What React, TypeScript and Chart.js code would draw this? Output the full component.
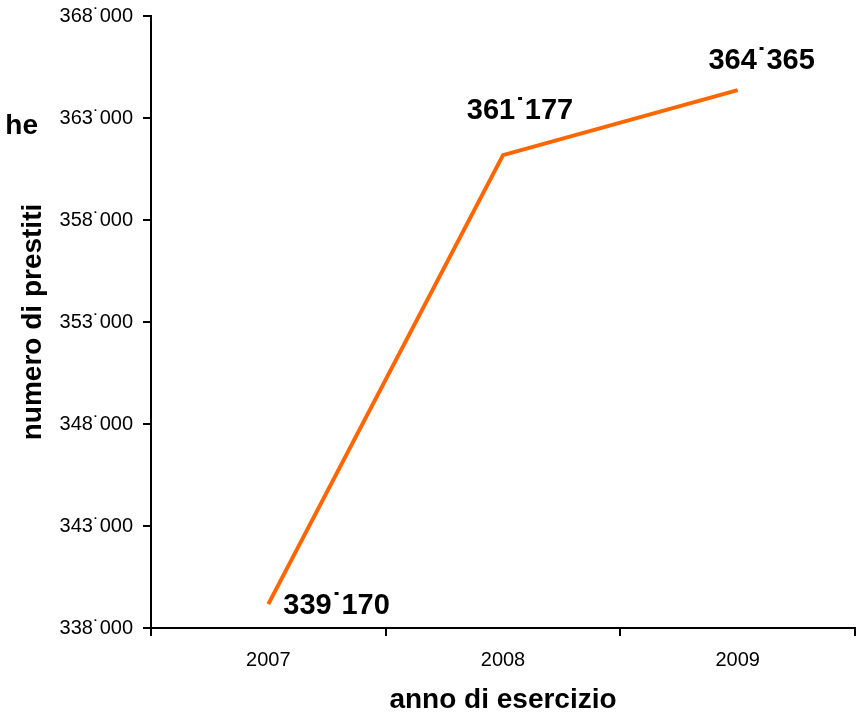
import React, { useEffect, useRef } from "react";
import { Chart, registerables } from "chart.js";

Chart.register(...registerables);

const years = ["2007", "2008", "2009"];
const loans = [339170, 361177, 364365];
const yTicks = [338000, 343000, 348000, 353000, 358000, 363000, 368000];
const xTitle = "anno di esercizio";
const yTitle = "numero di prestiti";
const clippedTitle = "he";

const fmt = (v: number) => {
  const s = Math.round(v).toString();
  return s.replace(/\B(?=(\d{3})+(?!\d))/g, "\u02D9");
};

const FONT = "'Liberation Sans', Arial, Helvetica, sans-serif";

export default function App() {
  const ref = useRef<HTMLCanvasElement | null>(null);
  useEffect(() => {
    if (!ref.current) return;
    const labelOffsets = [
      { dx: 15, dy: 2, align: "left" as CanvasTextAlign },
      { dx: 17, dy: -44, align: "center" as CanvasTextAlign },
      { dx: 24, dy: -29, align: "center" as CanvasTextAlign },
    ];
    const textPlugin = {
      id: "texts",
      afterDatasetsDraw(chart: any) {
        const ctx = chart.ctx;
        const meta = chart.getDatasetMeta(0);
        ctx.save();
        ctx.fillStyle = "#000";
        ctx.font = `bold 29px ${FONT}`;
        ctx.textBaseline = "middle";
        meta.data.forEach((pt: any, i: number) => {
          const o = labelOffsets[i];
          ctx.textAlign = o.align;
          ctx.fillText(fmt(loans[i]), pt.x + o.dx, pt.y + o.dy);
        });
        const ca = chart.chartArea;
        ctx.font = `bold 28px ${FONT}`;
        ctx.textAlign = "center";
        ctx.fillText(xTitle, (ca.left + ca.right) / 2, 700);
        ctx.save();
        ctx.translate(33, (ca.top + ca.bottom) / 2);
        ctx.rotate(-Math.PI / 2);
        ctx.fillText(yTitle, 0, 0);
        ctx.restore();
        ctx.font = `bold 28px ${FONT}`;
        ctx.textAlign = "right";
        ctx.fillText(clippedTitle, 38, 126);
        ctx.restore();
      },
    };
    const chart = new Chart(ref.current, {
      type: "line",
      data: {
        labels: years,
        datasets: [
          {
            data: loans,
            borderColor: "#FF6600",
            borderWidth: 4,
            pointRadius: 0,
            fill: false,
            tension: 0,
          },
        ],
      },
      options: {
        animation: false,
        responsive: false,
        maintainAspectRatio: false,
        layout: { padding: { left: 0, right: 5, top: 16, bottom: 0 } },
        plugins: {
          legend: { display: false },
          tooltip: { enabled: false },
        },
        scales: {
          x: {
            type: "category",
            offset: true,
            grid: {
              offset: true,
              drawOnChartArea: false,
              drawTicks: true,
              tickLength: 8,
              color: "#000",
              lineWidth: 2,
            },
            border: { color: "#000", width: 2 },
            ticks: {
              color: "#000",
              font: { family: FONT, size: 20 },
              padding: 12,
            },
            afterFit: (s: any) => {
              s.height = 88;
              s.paddingLeft = 0;
              s.paddingRight = 0;
            },
          },
          y: {
            type: "linear",
            min: 338000,
            max: 368000,
            afterBuildTicks: (s: any) => {
              s.ticks = yTicks.map((v) => ({ value: v }));
            },
            grid: {
              drawOnChartArea: false,
              drawTicks: true,
              tickLength: 8,
              color: "#000",
              lineWidth: 2,
            },
            border: { color: "#000", width: 2 },
            ticks: {
              color: "#000",
              font: { family: FONT, size: 20 },
              padding: 10,
              callback: (v: any) => fmt(Number(v)),
            },
            afterFit: (s: any) => {
              s.width = 151;
              s.paddingTop = 0;
              s.paddingBottom = 0;
            },
          },
        },
      },
      plugins: [textPlugin],
    });
    return () => chart.destroy();
  }, []);
  return (
    <div style={{ position: "fixed", left: 0, top: 0, width: 860, height: 716, background: "#fff" }}>
      <canvas ref={ref} width={860} height={716} style={{ display: "block" }} />
    </div>
  );
}
